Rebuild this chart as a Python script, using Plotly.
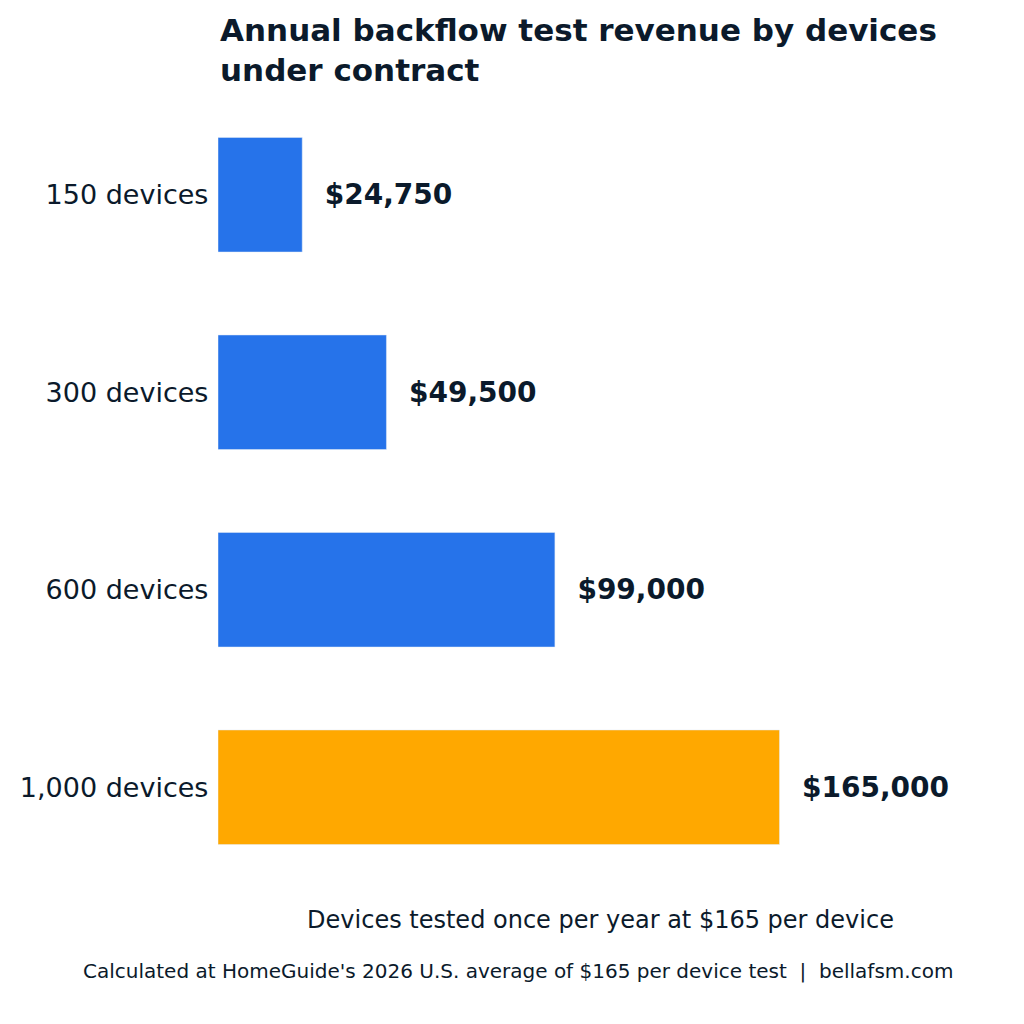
import plotly.graph_objects as go

categories = ["150 devices", "300 devices", "600 devices", "1,000 devices"]
revenue = [24750, 49500, 99000, 165000]
labels = ["$24,750", "$49,500", "$99,000", "$165,000"]
colors = ["#2673EA", "#2673EA", "#2673EA", "#FFA800"]

fig = go.Figure(go.Bar(
    y=categories, x=revenue, orientation="h", marker_color=colors, width=0.58,
    text=labels, texttemplate="  %{text}", textposition="outside", cliponaxis=False,
    textfont=dict(family="DejaVu Sans", size=28, color="#0B1A2B", weight="bold"),
))
fig.update_layout(
    width=1024, height=1024, plot_bgcolor="white", paper_bgcolor="white",
    margin=dict(l=197, r=49, t=88, b=146),
    font=dict(family="DejaVu Sans", color="#0B1A2B"),
    xaxis=dict(range=[0, 224800], showticklabels=False, showgrid=False, zeroline=False,
               title=dict(text="Devices tested once per year at $165 per device",
                          font=dict(size=24), standoff=25)),
    yaxis=dict(autorange="reversed", showgrid=False, tickfont=dict(size=27), ticksuffix=" "),
    showlegend=False,
    annotations=[
        dict(text="<b>Annual backflow test revenue by devices<br>under contract</b>",
             xref="paper", yref="paper", x=0, y=1.109, xanchor="left", yanchor="top",
             align="left", showarrow=False, font=dict(size=31, color="#0B1A2B")),
        dict(text="Calculated at HomeGuide's 2026 U.S. average of $165 per device test  |  bellafsm.com",
             xref="paper", yref="paper", x=0.392, y=-0.108,
             xanchor="center", yanchor="middle", showarrow=False, font=dict(size=20)),
    ],
)
fig.write_html("out.html")
